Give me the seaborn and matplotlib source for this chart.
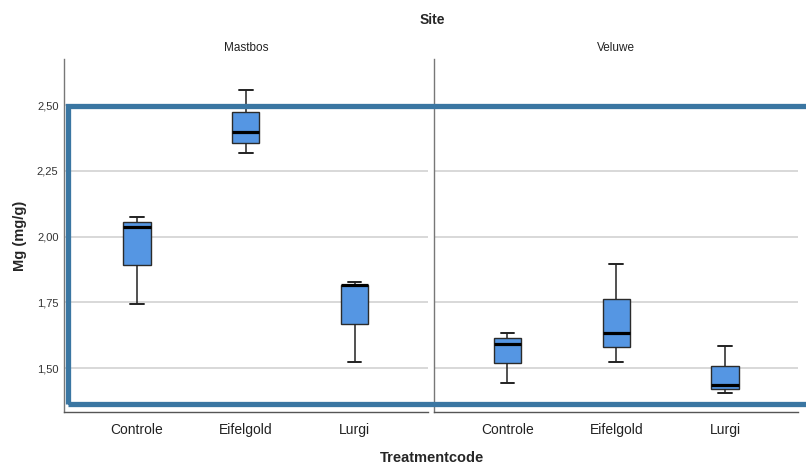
import pandas as pd
import matplotlib
matplotlib.use("Agg")
import matplotlib.pyplot as plt
import seaborn as sns
from matplotlib.patches import Rectangle
from matplotlib.ticker import FixedLocator

# Values: each list is (min, Q1, median, Q3, max)
sites = ["Mastbos", "Veluwe"]
treatments = ["Controle", "Eifelgold", "Lurgi"]

mastbos_controle = [1.744, 1.890, 2.035, 2.054, 2.076]
mastbos_eifelgold = [2.317, 2.357, 2.396, 2.475, 2.556]
mastbos_lurgi = [1.524, 1.669, 1.814, 1.817, 1.826]
veluwe_controle = [1.443, 1.519, 1.593, 1.615, 1.634]
veluwe_eifelgold = [1.524, 1.580, 1.634, 1.764, 1.895]
veluwe_lurgi = [1.404, 1.419, 1.436, 1.509, 1.585]

y_ticks = [1.50, 1.75, 2.00, 2.25, 2.50]
y_tick_labels = ["1,50", "1,75", "2,00", "2,25", "2,50"]

groups = {
    ("Mastbos", "Controle"): mastbos_controle,
    ("Mastbos", "Eifelgold"): mastbos_eifelgold,
    ("Mastbos", "Lurgi"): mastbos_lurgi,
    ("Veluwe", "Controle"): veluwe_controle,
    ("Veluwe", "Eifelgold"): veluwe_eifelgold,
    ("Veluwe", "Lurgi"): veluwe_lurgi,
}
rows = []
for (site, treat), vals in groups.items():
    for v in vals:
        rows.append({"Site": site, "Treatmentcode": treat, "Mg": v})
df = pd.DataFrame(rows)

sns.set_style("white")
plt.rcParams["font.family"] = ["Liberation Sans", "DejaVu Sans"]

box_color = "#5596E3"
band_color = "#3a76a2"

fig, axes = plt.subplots(1, 2, figsize=(8.06, 4.65), dpi=100, sharey=True)
fig.subplots_adjust(left=64 / 806, right=798 / 806, bottom=1 - 412 / 465,
                    top=1 - 59 / 465, wspace=0.019)

for ax, site in zip(axes, sites):
    sns.boxplot(
        data=df[df["Site"] == site], x="Treatmentcode", y="Mg",
        order=treatments, ax=ax, color=box_color, saturation=1,
        width=0.25, whis=(0, 100), showfliers=False,
        linecolor="#2b2b2b", linewidth=1.0,
        medianprops={"color": "black", "linewidth": 2.3},
        whiskerprops={"color": "#222222", "linewidth": 1.1},
        capprops={"color": "#222222", "linewidth": 1.4},
    )
    ax.set_xlim(-0.67, 2.67)
    ax.set_ylim(1.333, 2.675)
    ax.yaxis.set_major_locator(FixedLocator(y_ticks))
    ax.grid(axis="y", color="#d6d6d6", linewidth=1.3)
    ax.set_axisbelow(True)
    ax.set_xlabel("")
    ax.set_ylabel("")
    ax.set_title(site, fontsize=8.5, color="#222222", pad=6)
    for s in ["top", "right"]:
        ax.spines[s].set_visible(False)
    ax.spines["left"].set_color("#777777")
    ax.spines["left"].set_linewidth(1.0)
    ax.spines["bottom"].set_color("#555555")
    ax.spines["bottom"].set_linewidth(1.0)
    ax.tick_params(axis="x", length=0, pad=8, labelsize=10, labelcolor="#222222")
    ax.tick_params(axis="y", length=0, pad=4, labelsize=8, labelcolor="#333333")

axes[0].set_yticklabels(y_tick_labels)
axes[1].tick_params(axis="y", labelleft=False)
axes[0].set_ylabel("Mg (mg/g)", fontsize=10.5, fontweight="bold")
axes[0].yaxis.set_label_coords(-0.102, 0.5)

fig.text(432 / 806, 1 - 20 / 465, "Site", ha="center", va="center",
         fontsize=10, fontweight="bold")
fig.text(432 / 806, 1 - 458 / 465, "Treatmentcode", ha="center", va="center",
         fontsize=10.5, fontweight="bold")

# thick highlight frame drawn over the chart
x0, y_top, y_bot = 67.5 / 806, 1 - 106 / 465, 1 - 404 / 465
fig.patches.append(Rectangle((x0, y_bot), 1.1, y_top - y_bot,
                             transform=fig.transFigure, fill=False,
                             edgecolor=band_color, linewidth=3.8,
                             zorder=10, clip_on=False))

fig.savefig("out.png", dpi=100)
